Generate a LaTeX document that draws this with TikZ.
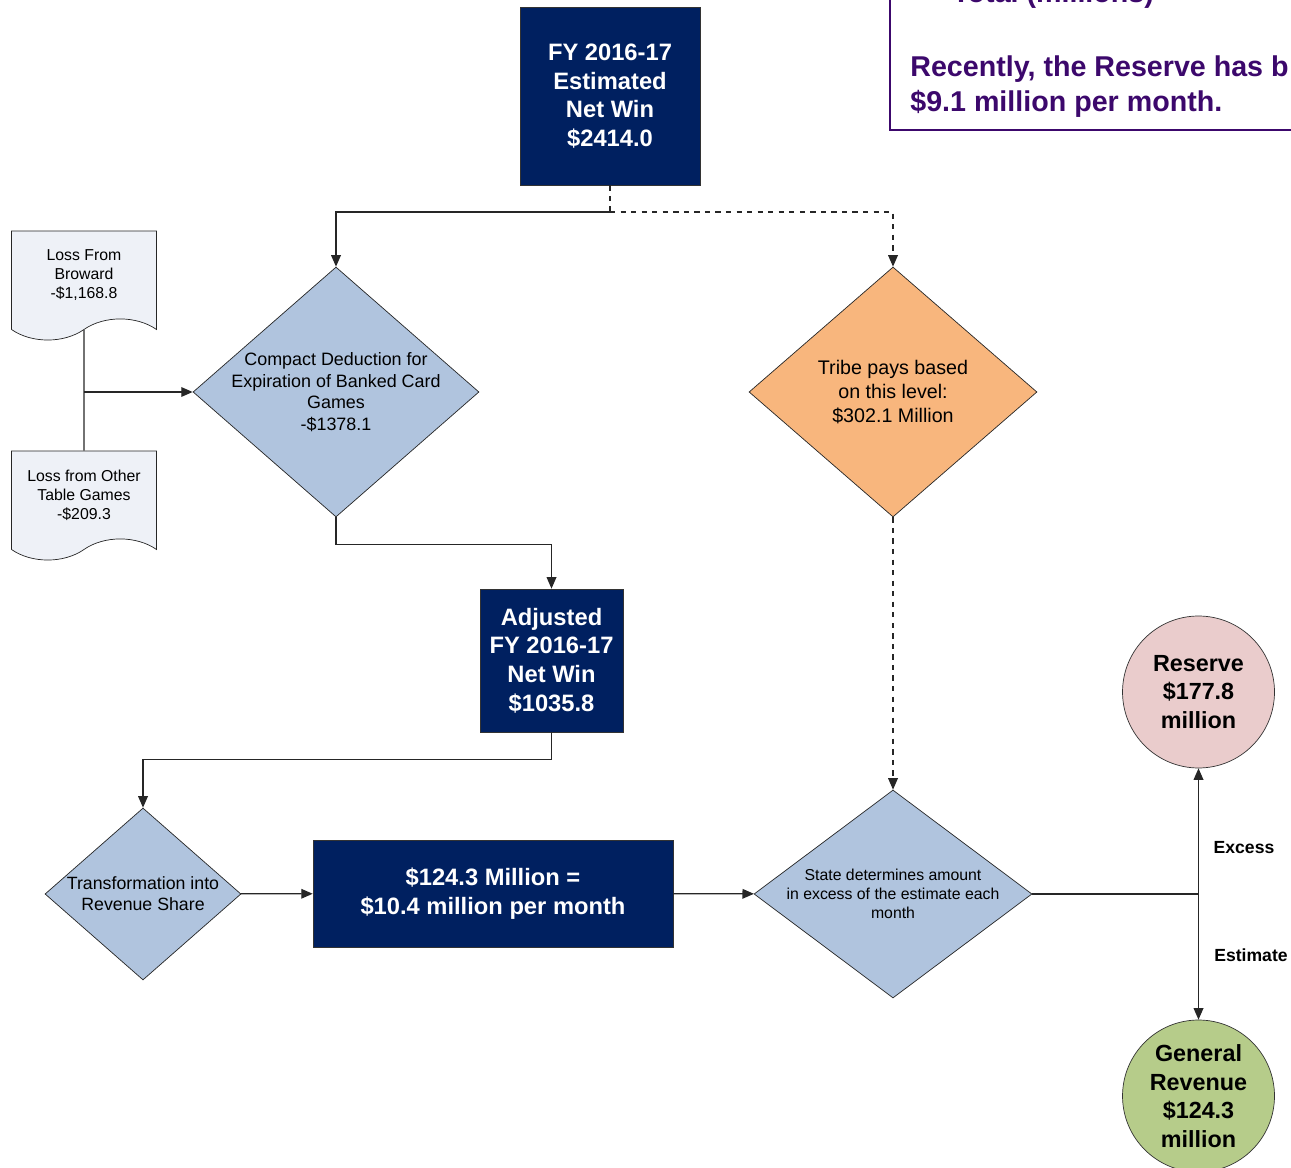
\documentclass[tikz,border=0pt]{standalone}
\usepackage{fontspec}
\setmainfont{Liberation Sans}
\usetikzlibrary{shapes.geometric,shapes.symbols,arrows.meta}

\definecolor{winnavy}{RGB}{0,32,96}
\definecolor{diablue}{RGB}{176,196,222}
\definecolor{tribeorange}{RGB}{248,182,125}
\definecolor{reservepink}{RGB}{234,204,204}
\definecolor{revgreen}{RGB}{182,204,138}
\definecolor{docgray}{RGB}{238,241,247}
\definecolor{notepurple}{RGB}{60,8,108}

\tikzset{
    flow/.style={draw=black!85, line width=0.7pt, -{Triangle[length=6.5pt,width=5.5pt]}},
    link/.style={draw=black!85, line width=0.7pt},
    winbox/.style={draw=black!80, fill=winnavy, text=white, inner sep=0pt,
        font=\fontsize{13.5}{16.3}\selectfont\bfseries, align=center},
    dia/.style={diamond, draw=black!85, fill=diablue, inner sep=0pt},
    docbox/.style={tape, tape bend top=none, tape bend bottom=in and out,
        tape bend height=12pt, draw=black!85, fill=docgray, inner sep=0pt,
        minimum width=2.9cm, minimum height=2.18cm, align=center,
        font=\fontsize{9}{10.8}\selectfont},
    pot/.style={circle, draw=black!80, inner sep=0pt, minimum size=3.04cm,
        font=\fontsize{13.3}{16.2}\selectfont\bfseries, align=center},
    tag/.style={font=\fontsize{10}{12}\selectfont\bfseries}
}

\begin{document}
\begin{tikzpicture}[x=0.02cm, y=-0.02cm]
    \useasboundingbox (0,0) rectangle (1291,1168);
    \clip (0,0) rectangle (1291,1168);

    % note box, top right
    \draw[notepurple, line width=1.2pt] (890,-20) -- (890,130) -- (1320,130);
    \node[anchor=base west, text=notepurple, inner sep=0pt,
        font=\fontsize{16.3}{19.8}\selectfont\bfseries] (total) at (952,3) {Total (millions)};
    \node[anchor=north west, text=notepurple, inner sep=0pt, align=left,
        font=\fontsize{16.3}{20.3}\selectfont\bfseries] (recent) at (910,55)
        {Recently, the Reserve has b\\\$9.1 million per month.};

    \node[winbox, minimum width=3.6cm, minimum height=3.56cm] (fywin) at (610,96)
        {FY 2016-17\\Estimated\\Net Win\\\$2414.0};

    \node[dia, minimum width=5.72cm, minimum height=5cm,
        label={[font=\fontsize{10.2}{12.2}\selectfont, align=center]center:Compact Deduction for\\Expiration of Banked Card\\Games\\-\$1378.1}]
        (compact) at (336,392) {};
    \node[dia, fill=tribeorange, minimum width=5.76cm, minimum height=5cm,
        label={[font=\fontsize{11.2}{13.6}\selectfont, align=center]center:Tribe pays based\\on this level:\\\$302.1 Million}]
        (tribe) at (893,392) {};

    \node[docbox] (broward) at (84,275) {Loss From\\Broward\\-\$1,168.8};
    \node[docbox] (othergames) at (84,495) {Loss from Other\\Table Games\\-\$209.3};

    \node[winbox, minimum width=2.86cm, minimum height=2.86cm] (adjusted) at (551.5,660.5)
        {Adjusted\\FY 2016-17\\Net Win\\\$1035.8};

    \node[dia, minimum width=3.92cm, minimum height=3.44cm,
        label={[font=\fontsize{10.1}{11.9}\selectfont, align=center]center:Transformation into\\Revenue Share}]
        (transform) at (143,894) {};
    \node[winbox, minimum width=7.2cm, minimum height=2.14cm] (share) at (493,893.5)
        {\$124.3 Million =\\\$10.4 million per month};
    \node[dia, minimum width=5.56cm, minimum height=4.16cm,
        label={[font=\fontsize{9}{10.8}\selectfont, align=center]center:State determines amount\\in excess of the estimate each\\month}]
        (state) at (893,894) {};

    \node[pot, fill=reservepink] (reserve) at (1198.5,692) {Reserve\\\$177.8\\million};
    \node[pot, fill=revgreen] (genrev) at (1198.5,1096) {General\\Revenue\\\$124.3\\million};

    \coordinate (split) at (610,212);
    \coordinate (join) at (84,392);
    \coordinate (branch) at (1198.5,894);

    \draw[link, dashed] (fywin) -- (split);
    \draw[flow] (split) -| (compact);
    \draw[flow, dashed] (split) -| (tribe);
    \draw[link] (broward) -- (othergames);
    \draw[flow] (join) -- (compact);
    \draw[flow] (compact.south) -- ++(0,27) -| (adjusted.north);
    \draw[flow] (adjusted.south) -- ++(0,27) -| (transform.north);
    \draw[flow] (transform) -- (share);
    \draw[flow] (share) -- (state);
    \draw[flow, dashed] (tribe) -- (state);
    \draw[link] (state.east) -- (branch);
    \draw[flow] (branch) -- (reserve);
    \draw[flow] (branch) -- (genrev);

    \node[tag] (excess) at (1244,848) {Excess};
    \node[tag] (estimate) at (1251,955) {Estimate};
\end{tikzpicture}
\end{document}
